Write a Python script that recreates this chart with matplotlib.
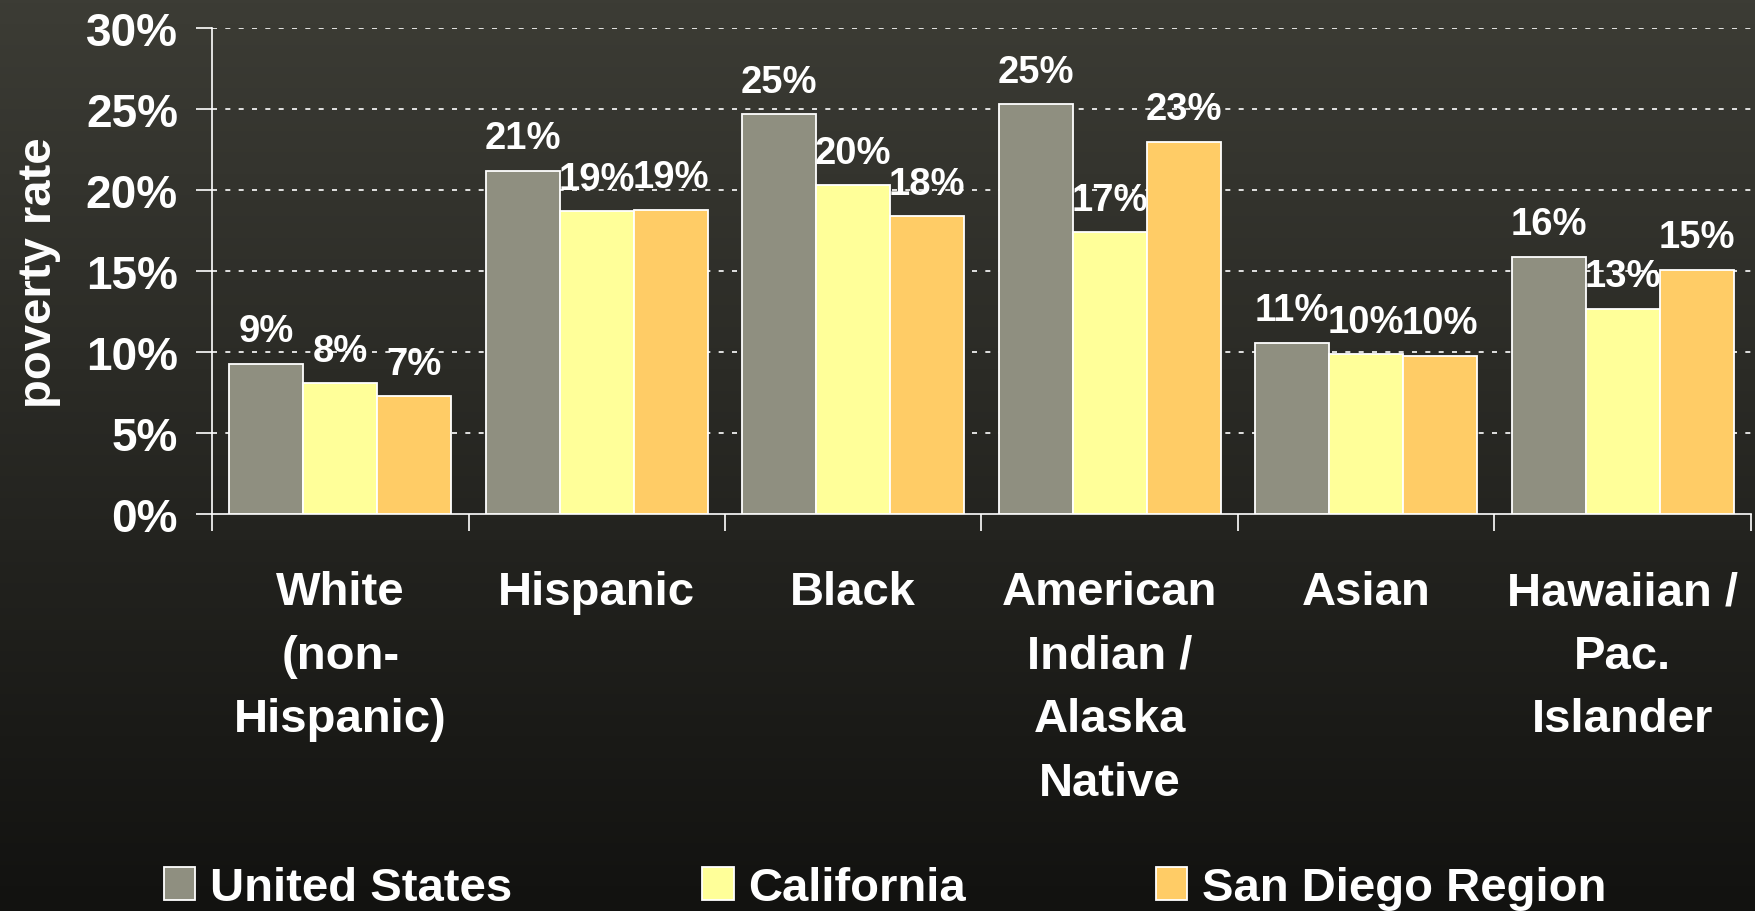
import numpy as np
import matplotlib
matplotlib.use("Agg")
import matplotlib.pyplot as plt
from matplotlib.ticker import FixedLocator

plt.rcParams["font.family"] = ["Liberation Sans", "DejaVu Sans"]
plt.rcParams["font.weight"] = "bold"

# poverty rate (%) by group
categories = ["White\n(non-\nHispanic)", "Hispanic", "Black",
              "American\nIndian /\nAlaska\nNative", "Asian", "Hawaiian /\nPac.\nIslander"]
united_states = [9.3, 21.2, 24.7, 25.3, 10.6, 15.9]
california = [8.1, 18.7, 20.3, 17.4, 9.9, 12.7]
san_diego = [7.3, 18.8, 18.4, 23.0, 9.8, 15.1]
series_names = ["United States", "California", "San Diego Region"]
colors = ["#8f8f80", "#ffff99", "#ffcc66"]
yticks = [0, 5, 10, 15, 20, 25, 30]

fig = plt.figure(figsize=(17.56, 9.12), dpi=100)

# dark gradient background
bg = fig.add_axes([0, 0, 1, 1], zorder=-10)
top = np.array([60, 60, 53]) / 255
bottom = np.array([18, 18, 16]) / 255
t = np.linspace(0, 1, 256)[:, None]
grad = top + (bottom - top) * t
bg.imshow(grad[:, None, :], aspect="auto", extent=[0, 1, 0, 1])
bg.axis("off")

ax = fig.add_axes([0.12073, 0.43476, 0.87642, 0.53344])
ax.set_facecolor("none")

x = np.arange(len(categories))
w = 0.2885
all_series = [united_states, california, san_diego]
for i, (vals, name, c) in enumerate(zip(all_series, series_names, colors)):
    bars = ax.bar(x + (i - 1) * w, vals, w, color=c, edgecolor="white",
                  linewidth=1.3, label=name, zorder=3)
    for b, v in zip(bars, vals):
        ax.annotate(f"{round(v):.0f}%", (b.get_x() + b.get_width() / 2, v),
                    xytext=(0, 16), textcoords="offset points",
                    ha="center", va="baseline", color="white",
                    fontsize=27.5, fontweight="bold", zorder=5)

ax.set_xlim(-0.5, 5.5)
ax.set_ylim(0, 30)
ax.set_yticks(yticks)
ax.set_yticklabels([f"{v}%" for v in yticks])
ax.tick_params(axis="y", colors="white", labelsize=33, length=11.5, width=1.2, pad=13)

ax.set_xticks(x)
ax.set_xticklabels(categories, fontsize=34, fontweight="bold", color="white",
                   linespacing=1.58, va="top")
ax.tick_params(axis="x", which="major", length=0, pad=40)
ax.xaxis.set_minor_locator(FixedLocator(np.arange(-0.5, 6, 1)))
ax.tick_params(axis="x", which="minor", length=12, width=1.2, color="white")

for side in ["top", "right"]:
    ax.spines[side].set_visible(False)
for side in ["left", "bottom"]:
    ax.spines[side].set_color("white")
    ax.spines[side].set_linewidth(1.2)

for v in yticks[1:]:
    ax.axhline(v, color="white", linewidth=1.2, linestyle=(0, (3, 5)), zorder=1)

ax.set_ylabel("poverty rate", fontsize=34, fontweight="bold", color="white")
ax.yaxis.set_label_coords(-0.098, 0.5)

fig.legend(loc="center left", bbox_to_anchor=(164 / 1756, 1 - 889 / 912),
           ncol=3, frameon=False, fontsize=34, handlelength=0.66,
           handleheight=0.7, handletextpad=0.31, columnspacing=4.03,
           borderpad=0, borderaxespad=0, labelcolor="white")

fig.savefig("out.png", dpi=100)
